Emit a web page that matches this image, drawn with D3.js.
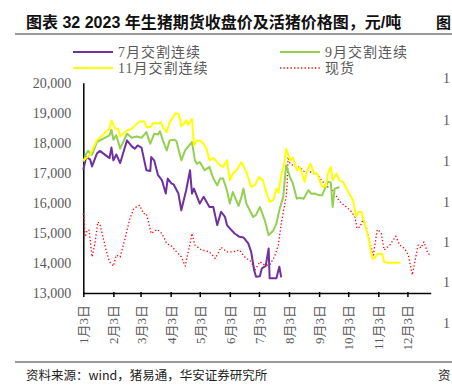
<!DOCTYPE html>
<html>
<head>
<meta charset="utf-8">
<script src="https://cdn.jsdelivr.net/npm/d3@7/dist/d3.min.js"></script>
<style>
  body { margin: 0; background: #fff; }
  text { font-family: "Liberation Serif", "Noto Sans CJK SC", serif; }
</style>
</head>
<body>
<svg id="chart" width="452" height="391"></svg>
<script>
// series: [月/日, 元/吨]
const jul = [
  ["1/3",17100],["1/6",17525],["1/10",17450],["1/12",17215],["1/17",17640],["1/20",17730],
  ["1/30",17490],["2/1",17840],["2/3",17415],["2/6",17610],["2/10",17325],["2/17",18080],
  ["2/22",17880],["2/25",17800],["2/28",17910],["3/4",17840],["3/9",17085],["3/13",17060],
  ["3/14",17525],["3/17",17415],["3/21",16920],["3/25",16760],["3/29",16310],["3/31",16810],
  ["4/4",16640],["4/6",16620],["4/11",16310],["4/14",15755],["4/19",16420],["4/23",17085],
  ["4/25",16310],["4/27",16475],["5/3",15975],["5/7",16200],["5/13",15865],["5/17",15865],
  ["5/21",15260],["5/25",15705],["5/29",15535],["5/31",15260],["6/3",15150],["6/8",14980],
  ["6/13",14870],["6/17",14850],["6/22",14650],["6/25",14370],["6/28",13765],["6/30",13540],
  ["7/4",13560],["7/6",13820],["7/10",13900],["7/13",14485],["7/14",13490],["7/21",13490],
  ["7/24",13875],["7/26",13520]
];
const sep = [
  ["1/3",17360],["1/6",17640],["1/8",17730],["1/12",17600],["1/17",18025],["1/20",18080],
  ["1/30",18245],["2/1",18435],["2/3",18100],["2/6",18250],["2/10",17805],["2/17",18300],
  ["2/22",18165],["2/27",18210],["3/4",18165],["3/9",18355],["3/13",17970],["3/17",18300],
  ["3/21",18275],["3/23",18380],["3/26",18080],["3/30",17745],["4/2",18080],["4/7",18100],
  ["4/9",18050],["4/14",17415],["4/18",17745],["4/21",17875],["4/25",18025],["4/28",17415],
  ["4/30",17300],["5/3",17360],["5/8",17085],["5/13",17200],["5/17",16810],["5/21",16585],
  ["5/24",16810],["5/27",16810],["5/31",16420],["6/3",15975],["6/6",16365],["6/12",15900],
  ["6/15",16200],["6/17",16475],["6/20",15980],["6/27",15530],["6/30",15600],["7/4",15865],
  ["7/9",15420],["7/13",14925],["7/18",15090],["7/21",15310],["7/24",15755],["7/28",16200],
  ["7/31",17250],["8/4",16860],["8/7",16640],["8/11",16140],["8/14",16170],["8/18",16140],
  ["8/23",16420],["8/26",16300],["8/30",16310],["9/3",16250],["9/6",16250],["9/9",16475],
  ["9/12",16700],["9/15",16680],["9/17",15865],["9/19",16475],["9/24",16530]
];
const nov = [
  ["1/3",17415],["1/10",17600],["1/17",18080],["1/30",18465],["2/1",18745],["2/5",18465],
  ["2/8",18465],["2/10",18210],["2/17",18410],["2/22",18465],["2/27",18630],["3/2",18710],
  ["3/7",18710],["3/9",18520],["3/14",18540],["3/16",18655],["3/21",18640],["3/24",18690],
  ["3/26",18520],["3/30",18355],["4/2",18690],["4/6",18875],["4/8",18985],["4/11",18960],
  ["4/13",18745],["4/14",18545],["4/17",18650],["4/19",18745],["4/21",18600],["4/25",18800],
  ["4/27",17915],["4/30",18080],["5/3",18080],["5/7",17970],["5/10",17805],["5/13",17415],
  ["5/17",17500],["5/20",17380],["5/24",17250],["5/27",17195],["5/31",17420],["6/3",16750],
  ["6/6",16970],["6/10",17085],["6/15",17360],["6/20",17030],["6/25",16530],["6/29",16600],
  ["7/3",16860],["7/7",16750],["7/11",16310],["7/14",16030],["7/18",16100],["7/21",16475],
  ["7/23",16350],["7/26",16920],["7/29",17305],["7/31",17805],["8/4",17415],["8/7",17500],
  ["8/11",17085],["8/14",17200],["8/19",16695],["8/22",17085],["8/25",17305],["8/29",16975],
  ["9/1",16975],["9/6",16530],["9/10",16580],["9/12",16975],["9/15",17195],["9/17",16750],
  ["9/21",16975],["9/24",16750],["9/28",16680],["10/3",16365],["10/8",16085],["10/11",15555],
  ["10/14",15700],["10/17",15700],["10/18",15530],["10/22",15090],["10/25",14650],["10/28",14150],
  ["10/30",14150],["11/2",14295],["11/7",14295],["11/9",14040],["11/12",14005],["11/26",14005]
];
const spot = [
  ["1/3",15645],["1/5",14870],["1/7",15090],["1/9",15090],["1/12",14205],["1/15",14650],
  ["1/18",15365],["1/20",15300],["1/24",14760],["1/27",14370],["1/30",14040],["2/3",13895],
  ["2/6",14260],["2/10",14200],["2/15",14815],["2/20",15480],["2/24",15810],["2/26",15850],
  ["3/2",15920],["3/6",15645],["3/9",15645],["3/14",14980],["3/20",15115],["3/25",14980],
  ["3/30",14650],["4/4",14560],["4/9",14370],["4/14",14205],["4/18",13895],["4/23",14650],
  ["4/25",14980],["4/28",14595],["5/5",14430],["5/13",14370],["5/19",14150],["5/25",14520],
  ["5/31",14370],["6/6",14370],["6/13",14430],["6/18",14210],["6/25",14040],["6/29",13765],
  ["7/4",14040],["7/9",13930],["7/14",13930],["7/19",14205],["7/23",14595],["7/26",15315],
  ["7/31",16200],["8/1",16530],["8/2",17525],["8/4",17310],["8/7",17250],["8/11",17195],
  ["8/14",17195],["8/19",17030],["8/24",17050],["8/28",16975],["9/1",16975],["9/4",16810],
  ["9/7",16700],["9/11",16530],["9/15",16530],["9/19",16310],["9/24",16050],["9/29",15920],
  ["10/5",15755],["10/10",15535],["10/12",15150],["10/15",15200],["10/18",15425],["10/22",15150],
  ["10/25",14700],["10/29",14260],["10/30",14500],["11/2",15115],["11/6",15000],["11/9",14430],
  ["11/15",14600],["11/21",14890],["11/25",14600],["11/30",14485],["12/4",14260],["12/8",13600],
  ["12/12",14260],["12/14",14595],["12/17",14500],["12/20",14700],["12/24",14320],["12/27",14260]
];
const tickDates = ["1/3","2/3","3/3","4/3","5/3","6/3","7/3","8/3","9/3","10/3","11/3","12/3"];
const tickLabels = ["1月3日","2月3日","3月3日","4月3日","5月3日","6月3日","7月3日","8月3日","9月3日","10月3日","11月3日","12月3日"];
const yTicks = [13000,14000,15000,16000,17000,18000,19000,20000];
const seriesNames = ["7月交割连续","9月交割连续","11月交割连续","现货"];

const parse = s => d3.timeParse("%Y/%m/%d")("2023/" + s);
const svg = d3.select("#chart");

// title + rules
svg.append("text").attr("x", 26).attr("y", 28)
  .style("font-family", "'Liberation Sans', 'Noto Sans CJK SC', sans-serif")
  .style("font-weight", "bold").style("font-size", "16px").attr("fill", "#111")
  .text("图表 32 2023 年生猪期货收盘价及活猪价格图，元/吨");
svg.append("text").attr("x", 436).attr("y", 28)
  .style("font-family", "'Noto Sans CJK SC', sans-serif")
  .style("font-weight", "bold").style("font-size", "15px").attr("fill", "#111")
  .text("图");
svg.append("line").attr("x1", 15).attr("x2", 452).attr("y1", 34).attr("y2", 34)
  .attr("stroke", "#333").attr("stroke-width", 1.2);
svg.append("line").attr("x1", 15).attr("x2", 452).attr("y1", 362).attr("y2", 362)
  .attr("stroke", "#333").attr("stroke-width", 1.2);
svg.append("text").attr("x", 26).attr("y", 380)
  .style("font-family", "'Noto Sans CJK SC', sans-serif").style("font-size", "12.5px").attr("fill", "#222")
  .text("资料来源：wind，猪易通，华安证券研究所");
svg.append("text").attr("x", 438).attr("y", 380)
  .style("font-family", "'Noto Sans CJK SC', sans-serif").style("font-size", "12.5px").attr("fill", "#222")
  .text("资");

// neighbour chart axis fragment
[78, 120, 161, 202, 242, 282, 323].forEach(y => {
  svg.append("text").attr("x", 443).attr("y", y).attr("dy", "0.35em")
    .style("font-size", "14px").attr("fill", "#595959").text("1");
});

const x = d3.scaleTime().domain([parse("1/3"), parse("12/27")]).range([83.3, 430.7]);
const y = d3.scaleLinear().domain([13000, 20000]).range([293, 82.7]);

// y axis
const yAxis = svg.append("g").attr("transform", "translate(83.3,0)")
  .call(d3.axisLeft(y).tickValues(yTicks).tickFormat(d3.format(",")).tickSize(0).tickPadding(12));
yAxis.select(".domain").attr("stroke", "#000").attr("stroke-width", 1.5);
yAxis.selectAll("text").style("font-size", "14px").attr("fill", "#595959")
  .style("font-family", "'Liberation Serif', serif");

// lines
const line = d3.line().x(d => x(parse(d[0]))).y(d => y(d[1]));
const styles = [
  {data: jul, color: "#7030A0", w: 2},
  {data: sep, color: "#92D050", w: 2},
  {data: nov, color: "#FFFF00", w: 2},
  {data: spot, color: "#FF0000", w: 1.3, dash: "1.3,2.2"}
];
// draw order: spot, then contracts
[3, 0, 1, 2].forEach(i => {
  const s = styles[i];
  svg.append("path").datum(s.data).attr("d", line)
    .attr("fill", "none").attr("stroke", s.color).attr("stroke-width", s.w)
    .attr("stroke-linejoin", "round")
    .attr("stroke-dasharray", s.dash || null);
});

// x axis
const xAxis = svg.append("g").attr("transform", "translate(0,293)")
  .call(d3.axisBottom(x).tickValues(tickDates.map(parse)).tickSizeInner(4).tickSizeOuter(0)
    .tickFormat((d, i) => tickLabels[i]));
xAxis.select(".domain").attr("stroke", "#000").attr("stroke-width", 1.5);
xAxis.selectAll(".tick line").attr("stroke", "#000").attr("stroke-width", 1.5).attr("y1", -1);
xAxis.selectAll(".tick text")
  .attr("transform", "rotate(-90)")
  .attr("text-anchor", "end")
  .attr("x", -12).attr("y", 0).attr("dy", "0.35em")
  .style("font-size", "13px").attr("fill", "#595959");

// legend
const legendPos = [[73, 52], [280, 52], [73, 68], [280, 68]];
seriesNames.forEach((name, i) => {
  const [lx, ly] = legendPos[i];
  const s = styles[i];
  svg.append("line").attr("x1", lx).attr("x2", lx + 40).attr("y1", ly).attr("y2", ly)
    .attr("stroke", s.color).attr("stroke-width", s.w).attr("stroke-dasharray", s.dash || null);
  svg.append("text").attr("x", lx + 45).attr("y", ly).attr("dy", "0.36em")
    .style("font-size", "14px").style("letter-spacing", "1px").attr("fill", "#595959").text(name);
});
</script>
</body>
</html>
